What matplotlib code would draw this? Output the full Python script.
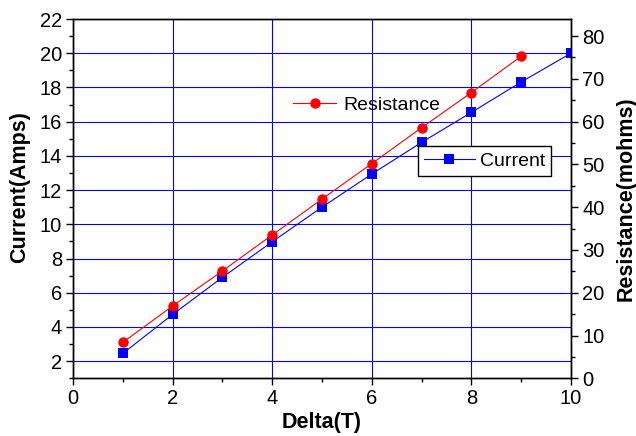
import matplotlib
matplotlib.use("Agg")
import matplotlib.pyplot as plt
from matplotlib.ticker import MultipleLocator

plt.rcParams['font.family'] = ['Liberation Sans', 'DejaVu Sans']

delta = [1, 2, 3, 4, 5, 6, 7, 8, 9, 10]
current = [2.45, 4.73, 6.9, 8.98, 11.0, 12.94, 14.79, 16.54, 18.32, 20.0]
delta_r = [1, 2, 3, 4, 5, 6, 7, 8, 9]
resistance = [8.4, 16.9, 25.1, 33.5, 41.9, 50.2, 58.6, 66.8, 75.3]

fig = plt.figure(figsize=(6.36, 4.36), dpi=100)
ax = fig.add_axes([73/636, (436-378.3)/436, 498/636, 359.3/436])
ax2 = ax.twinx()

ax.set_xlim(0, 10)
ax.set_ylim(1, 22)
ax2.set_ylim(0, 84)

ax.xaxis.set_major_locator(MultipleLocator(2))
ax.xaxis.set_minor_locator(MultipleLocator(1))
ax.yaxis.set_major_locator(MultipleLocator(2))
ax.yaxis.set_minor_locator(MultipleLocator(1))
ax2.yaxis.set_major_locator(MultipleLocator(10))
ax2.yaxis.set_minor_locator(MultipleLocator(5))

ax.grid(True, which='major', color='#0000ff', linewidth=0.8)
ax.set_axisbelow(True)

for a in (ax, ax2):
    for s in a.spines.values():
        s.set_linewidth(1.0)
    a.tick_params(which='major', direction='out', length=5, width=1.0,
                  labelsize=14.5, pad=3)
    a.tick_params(which='minor', direction='out', length=3, width=1.0)

l1, = ax.plot(delta, current, color='#0000ff', lw=0.8, marker='s', ms=6.5,
              markeredgewidth=0, label='Current', zorder=3)
l2, = ax2.plot(delta_r, resistance, color='#ff0000', lw=0.8, marker='o', ms=7.5,
               markeredgewidth=0, label='Resistance', zorder=3)

ax.set_xlabel('Delta(T)', fontsize=15.5, fontweight='bold')
ax.set_ylabel('Current(Amps)', fontsize=15.5, fontweight='bold')
ax2.set_ylabel('Resistance(mohms)', fontsize=15.5, fontweight='bold')
ax.xaxis.set_label_coords(0.5, -0.094)
ax.yaxis.set_label_coords(-0.087, 0.532)
ax2.yaxis.set_label_coords(1.09, 0.5)

leg1 = ax2.legend(handles=[l2], loc='center left', bbox_to_anchor=(0.442, 0.761),
                  frameon=False, fontsize=14, borderpad=0, borderaxespad=0,
                  handlelength=2.2, handletextpad=0.4)
ax2.add_artist(leg1)
leg2 = ax2.legend(handles=[l1], loc='center left', bbox_to_anchor=(0.693, 0.605),
                  frameon=True, fancybox=False, fontsize=14, borderpad=0.3,
                  borderaxespad=0, handlelength=2.6, handletextpad=0.3,
                  edgecolor='black', framealpha=1)
leg2.get_frame().set_linewidth(1.0)

fig.savefig('out.png', dpi=100)
